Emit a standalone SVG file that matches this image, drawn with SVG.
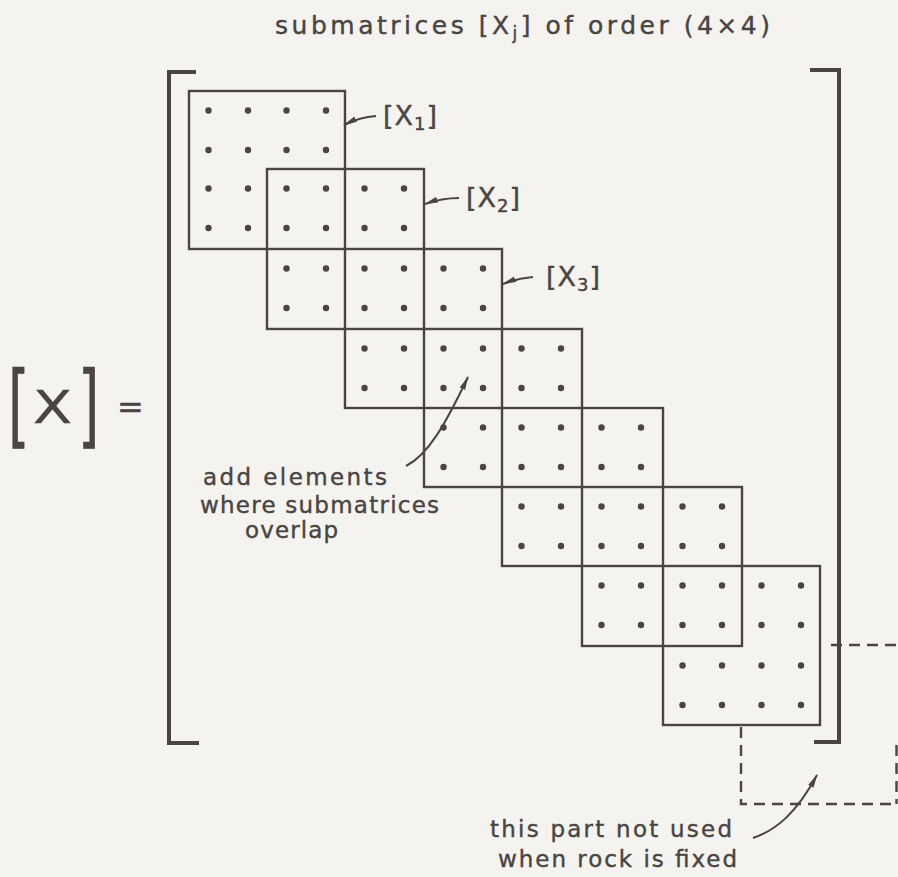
<svg xmlns="http://www.w3.org/2000/svg" xmlns:xlink="http://www.w3.org/1999/xlink" width="898" height="877" viewBox="0 0 898 877">
<style>
  .bg { fill: #f4f3ef; }
  .box { fill: none; stroke: #4a4442; stroke-width: 2.4; }
  .brk { fill: none; stroke: #4a4442; stroke-width: 4; stroke-linecap: butt; stroke-linejoin: miter; }
  .dash { fill: none; stroke: #4a4442; stroke-width: 2.4; stroke-dasharray: 11 7; }
  .arr { fill: none; stroke: #4a4442; stroke-width: 2; }
  .dot { fill: #4a4442; }
  text { font-family: "DejaVu Sans", "Liberation Sans", sans-serif; fill: #4a4442; stroke: #4a4442; stroke-width: 0.4; }
  .lbl { font-size: 23px; }
  .ttl { font-size: 25px; }
  .xl { font-size: 27px; }
</style>
<defs>
  <marker id="ah" viewBox="0 0 14 8" refX="13" refY="4" markerWidth="14" markerHeight="8" markerUnits="userSpaceOnUse" orient="auto">
    <path d="M0,1 L14,4 L0,7 Z" fill="#4a4442"/>
  </marker>
  <g id="cell">
    <circle class="dot" cx="19.5" cy="19.5" r="3.2"/>
    <circle class="dot" cx="59" cy="19.5" r="3.2"/>
    <circle class="dot" cx="19.5" cy="59" r="3.2"/>
    <circle class="dot" cx="59" cy="59" r="3.2"/>
  </g>
</defs>
<rect class="bg" x="0" y="0" width="898" height="877"/>

<text class="ttl" x="275" y="34" textLength="495" lengthAdjust="spacing">submatrices [X<tspan font-size="17" dy="5">j</tspan><tspan dy="-5">] of order (4×4)</tspan></text>

<g id="lhs">
  <text transform="translate(8,436) scale(1,1.65)" font-size="55">[</text>
  <text x="33" y="423" font-size="45" textLength="39" lengthAdjust="spacingAndGlyphs">X</text>
  <text transform="translate(78,436) scale(1,1.65)" font-size="55">]</text>
  <text x="117" y="418" font-size="32">=</text>
</g>

<g id="matrix-brackets">
  <path class="brk" d="M196,72 L169,72 L169,743 L199,743"/>
  <path class="brk" d="M810,70 L839,70 L839,742 L814,742"/>
</g>

<g id="X1"><rect class="box" x="189" y="91" width="156" height="158"/></g>
<g id="X2"><rect class="box" x="267" y="169" width="157" height="160"/></g>
<g id="X3"><rect class="box" x="345" y="249" width="157" height="159"/></g>
<g id="X4"><rect class="box" x="424" y="329" width="158" height="158"/></g>
<g id="X5"><rect class="box" x="502" y="408" width="161" height="158"/></g>
<g id="X6"><rect class="box" x="582" y="487" width="160" height="159"/></g>
<g id="X7"><rect class="box" x="663" y="566" width="157" height="159"/></g>

<g id="elements">
  <use xlink:href="#cell" x="189" y="91"/>
  <use xlink:href="#cell" x="267" y="91"/>
  <use xlink:href="#cell" x="189" y="169"/>
  <use xlink:href="#cell" x="267" y="169"/>
  <use xlink:href="#cell" x="345" y="169"/>
  <use xlink:href="#cell" x="267" y="249"/>
  <use xlink:href="#cell" x="345" y="249"/>
  <use xlink:href="#cell" x="424" y="249"/>
  <use xlink:href="#cell" x="345" y="329"/>
  <use xlink:href="#cell" x="424" y="329"/>
  <use xlink:href="#cell" x="502" y="329"/>
  <use xlink:href="#cell" x="424" y="408"/>
  <use xlink:href="#cell" x="502" y="408"/>
  <use xlink:href="#cell" x="582" y="408"/>
  <use xlink:href="#cell" x="502" y="487"/>
  <use xlink:href="#cell" x="582" y="487"/>
  <use xlink:href="#cell" x="663" y="487"/>
  <use xlink:href="#cell" x="582" y="566"/>
  <use xlink:href="#cell" x="663" y="566"/>
  <use xlink:href="#cell" x="742" y="566"/>
  <use xlink:href="#cell" x="663" y="646"/>
  <use xlink:href="#cell" x="742" y="646"/>
</g>

<g id="unused-part">
  <path class="dash" d="M831,645 L898,645"/>
  <path class="dash" d="M741,727 L741,804 L898,804"/>
  <path class="dash" d="M896.5,745 L896.5,804"/>
</g>

<g id="labels">
  <text class="xl" x="383" y="125" letter-spacing="1">[X<tspan font-size="18" dy="5">1</tspan><tspan dy="-5">]</tspan></text>
  <text class="xl" x="466" y="207" letter-spacing="1">[X<tspan font-size="18" dy="5">2</tspan><tspan dy="-5">]</tspan></text>
  <text class="xl" x="546" y="286" letter-spacing="1">[X<tspan font-size="18" dy="5">3</tspan><tspan dy="-5">]</tspan></text>
  <text class="lbl" x="203" y="485" textLength="184" lengthAdjust="spacing">add elements</text>
  <text class="lbl" x="200" y="513" textLength="239" lengthAdjust="spacing">where submatrices</text>
  <text class="lbl" x="245" y="538" textLength="93" lengthAdjust="spacing">overlap</text>
  <text class="lbl" x="490" y="837" textLength="242" lengthAdjust="spacing">this part not used</text>
  <text class="lbl" x="498" y="867" textLength="239" lengthAdjust="spacing">when rock is fixed</text>
</g>

<g id="connectors">
  <path class="arr" d="M376,116 Q360,117 344,125" marker-end="url(#ah)"/>
  <path class="arr" d="M459,198 Q442,198 425,204" marker-end="url(#ah)"/>
  <path class="arr" d="M533,277 Q518,278 503,284" marker-end="url(#ah)"/>
  <path class="arr" d="M406,466 C428,455 445,425 468,377" marker-end="url(#ah)"/>
  <path class="arr" d="M753,838 C777,830 797,812 817,775" marker-end="url(#ah)"/>
</g>
</svg>
